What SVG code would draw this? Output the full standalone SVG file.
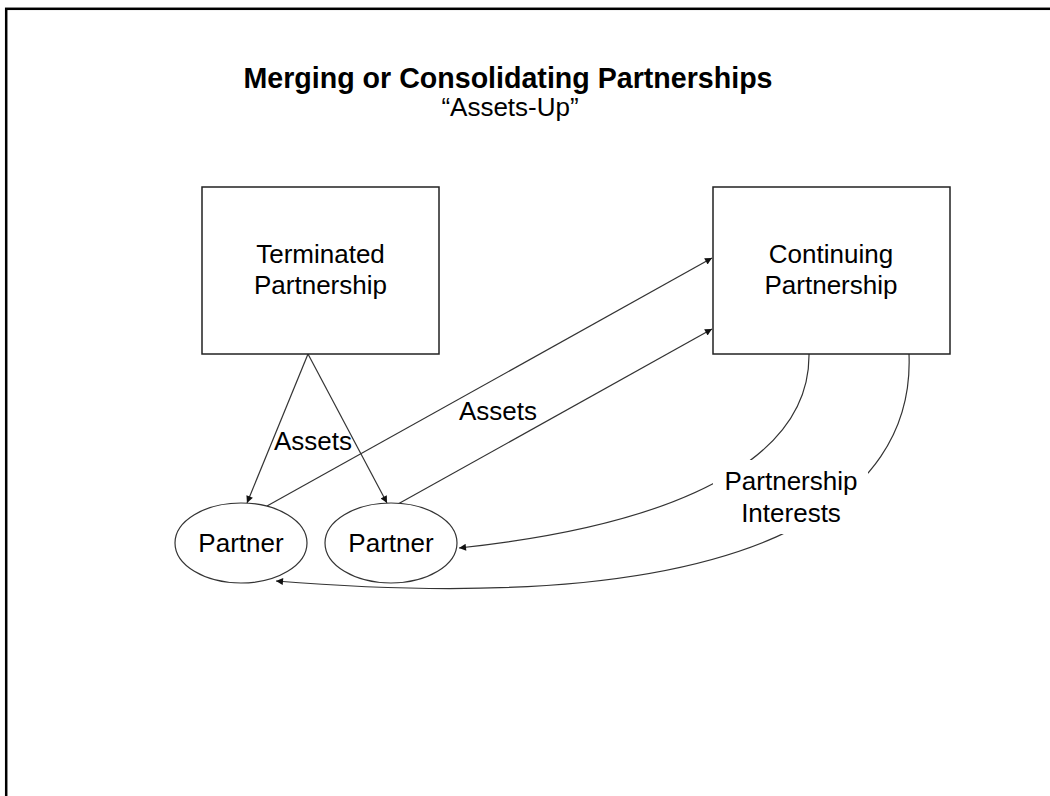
<svg xmlns="http://www.w3.org/2000/svg" width="1050" height="796" viewBox="0 0 1050 796">
<defs>
<style>
.t{font-family:"Liberation Sans",Arial,sans-serif;font-size:26px;fill:#000;text-anchor:middle}
.title{font-family:"Liberation Sans",Arial,sans-serif;font-size:28.6px;font-weight:bold;fill:#000;text-anchor:middle}
.box{fill:#fff;stroke:#222;stroke-width:1.5}
.ell{fill:#fff;stroke:#333;stroke-width:1.2}
.c{fill:none;stroke:#333;stroke-width:1.2}
</style>
<marker id="ah" viewBox="0 0 10 10" refX="10" refY="5" markerWidth="9" markerHeight="7" markerUnits="userSpaceOnUse" orient="auto">
<path d="M0,0 L10,5 L0,10 z" fill="#111"/>
</marker>
</defs>
<rect x="0" y="0" width="1050" height="796" fill="#fff"/>
<rect x="6.2" y="8.8" width="1100" height="850" fill="none" stroke="#000" stroke-width="2.5"/>
<g id="title">
<text class="title" x="508" y="88">Merging or Consolidating Partnerships</text>
<text class="t" x="510" y="116">“Assets-Up”</text>
</g>
<g id="connectors">
<line class="c" x1="308" y1="354" x2="247" y2="503" marker-end="url(#ah)"/>
<line class="c" x1="308" y1="354" x2="387" y2="503" marker-end="url(#ah)"/>
<line class="c" x1="267" y1="506" x2="712" y2="258" marker-end="url(#ah)"/>
<line class="c" x1="398" y1="504" x2="712" y2="329" marker-end="url(#ah)"/>
<path class="c" d="M809,354 C810,440 720,520 459,548" marker-end="url(#ah)"/>
<path class="c" d="M909,354 C915,500 760,620 276,581" marker-end="url(#ah)"/>
<rect x="713" y="460" width="155" height="74" fill="#fff"/>
<text class="t" x="274" y="450" style="text-anchor:start">Assets</text>
<text class="t" x="459" y="420" style="text-anchor:start">Assets</text>
<text class="t" x="791" y="490">Partnership</text>
<text class="t" x="791" y="522">Interests</text>
</g>
<g id="terminated">
<rect class="box" x="202" y="187" width="237" height="167"/>
<text class="t" x="320.5" y="263">Terminated</text>
<text class="t" x="320.5" y="294">Partnership</text>
</g>
<g id="continuing">
<rect class="box" x="713" y="187" width="237" height="167"/>
<text class="t" x="831" y="263">Continuing</text>
<text class="t" x="831" y="294">Partnership</text>
</g>
<g id="partner1">
<ellipse class="ell" cx="241" cy="543" rx="66" ry="40"/>
<text class="t" x="241" y="552">Partner</text>
</g>
<g id="partner2">
<ellipse class="ell" cx="391" cy="543" rx="66" ry="40"/>
<text class="t" x="391" y="552">Partner</text>
</g>
</svg>
